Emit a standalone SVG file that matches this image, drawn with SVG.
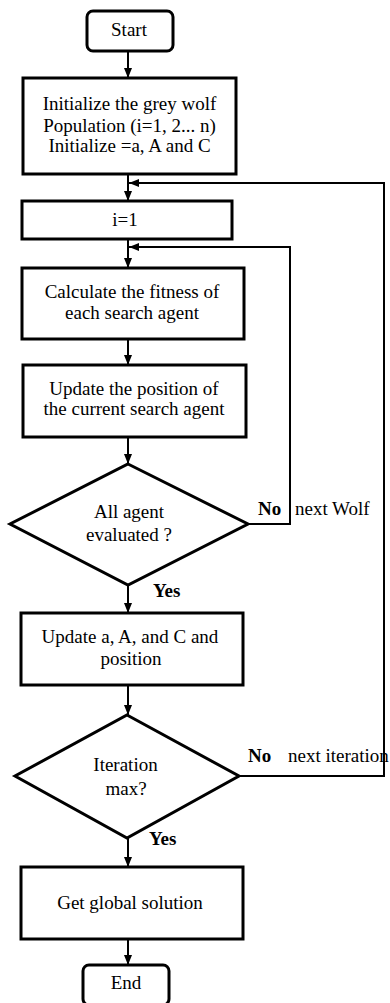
<svg xmlns="http://www.w3.org/2000/svg" width="390" height="1003" viewBox="0 0 390 1003">
<defs>
<marker id="ah" markerUnits="userSpaceOnUse" markerWidth="10" markerHeight="10" viewBox="0 0 10 10" refX="10" refY="5" orient="auto">
<path d="M0,1 L10,5 L0,9 Z" fill="#000"/>
</marker>
<style>
.box{fill:#fff;stroke:#000;stroke-width:3}
.c{fill:none;stroke:#000;stroke-width:2}
text{font-family:"Liberation Serif","Times New Roman",serif;font-size:19px;fill:#000}
.m{text-anchor:middle}
.b{font-weight:bold}
</style>
</defs>
<rect width="390" height="1003" fill="#fff"/>
<g id="connectors">
<line class="c" x1="128" y1="51" x2="128" y2="78" marker-end="url(#ah)"/>
<line class="c" x1="128" y1="174" x2="128" y2="201" marker-end="url(#ah)"/>
<polyline class="c" points="239,776 384,776 384,183 129,183" marker-end="url(#ah)"/>
<polyline class="c" points="248,524 290,524 290,247 129,247" marker-end="url(#ah)"/>
<line class="c" x1="128" y1="239" x2="128" y2="268" marker-end="url(#ah)"/>
<line class="c" x1="128" y1="339" x2="128" y2="365" marker-end="url(#ah)"/>
<line class="c" x1="128" y1="437" x2="128" y2="464" marker-end="url(#ah)"/>
<line class="c" x1="128" y1="585" x2="128" y2="613" marker-end="url(#ah)"/>
<line class="c" x1="128" y1="685" x2="128" y2="715" marker-end="url(#ah)"/>
<line class="c" x1="128" y1="838" x2="128" y2="867" marker-end="url(#ah)"/>
<line class="c" x1="128" y1="939" x2="128" y2="965" marker-end="url(#ah)"/>
<text class="b" x="258" y="515">No</text>
<text x="295" y="515">next Wolf</text>
<text class="b" x="248" y="762">No</text>
<text x="288" y="762">next iteration</text>
<text class="b" x="153" y="597">Yes</text>
<text class="b" x="149" y="845">Yes</text>
</g>
<g id="start">
<rect class="box" x="87" y="11" width="86" height="40" rx="6"/>
<text class="m" x="129" y="36">Start</text>
</g>
<g id="init">
<rect class="box" x="23" y="78" width="213" height="96"/>
<text class="m" x="129.5" y="110">Initialize the grey wolf</text>
<text class="m" x="129.5" y="132">Population (i=1, 2... n)</text>
<text class="m" x="129.5" y="152">Initialize =a, A and C</text>
</g>
<g id="i1">
<rect class="box" x="22" y="201" width="210" height="38"/>
<text class="m" x="125" y="226">i=1</text>
</g>
<g id="fitness">
<rect class="box" x="22" y="268" width="222" height="71"/>
<text class="m" x="132" y="298">Calculate the fitness of</text>
<text class="m" x="132" y="319">each search agent</text>
</g>
<g id="update-pos">
<rect class="box" x="23" y="365" width="223" height="72"/>
<text class="m" x="134" y="395">Update the position of</text>
<text class="m" x="134" y="415">the current search agent</text>
</g>
<g id="all-evaluated">
<polygon class="box" points="128,464 248,524 128,585 10,524"/>
<text class="m" x="129" y="518">All agent</text>
<text class="m" x="129" y="541">evaluated ?</text>
</g>
<g id="update-aac">
<rect class="box" x="21" y="613" width="222" height="72"/>
<text class="m" x="130" y="643">Update a, A, and C and</text>
<text class="m" x="131" y="665">position</text>
</g>
<g id="iteration-max">
<polygon class="box" points="127,715 239,776 127,838 15,776"/>
<text class="m" x="125.5" y="771">Iteration</text>
<text class="m" x="126" y="795">max?</text>
</g>
<g id="global">
<rect class="box" x="21" y="867" width="222" height="72"/>
<text class="m" x="130" y="909">Get global solution</text>
</g>
<g id="end">
<rect class="box" x="83" y="965" width="86" height="40" rx="6"/>
<text class="m" x="126" y="989">End</text>
</g>
</svg>
